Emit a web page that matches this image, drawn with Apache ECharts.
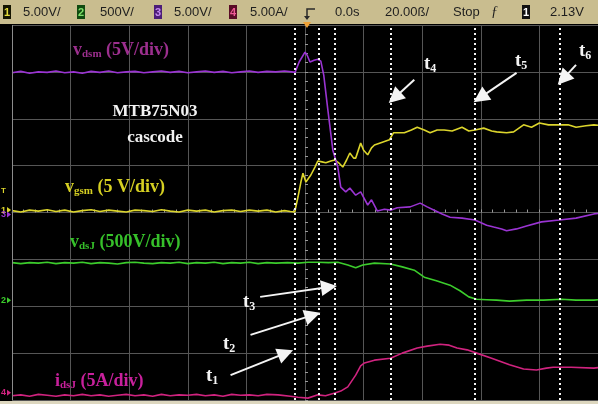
<!DOCTYPE html>
<html>
<head>
<meta charset="utf-8">
<script src="https://cdn.jsdelivr.net/npm/echarts@6/dist/echarts.min.js"></script>
<style>
  html, body { margin: 0; padding: 0; background: #000; }
  #scope { width: 598px; height: 404px; }
</style>
</head>
<body>
<div id="scope"></div>
<script>
// Time in ns, 20 ns/div, trigger at 0 ns
const timeMin = -100;
const timeMax = 100;
const timeStep = 20;

// Channel settings: volts (or amps) per division and ground level in divisions
const ch1Scale = 5,   ch1Ground = 0.03;   // v_gsm
const ch2Scale = 500, ch2Ground = -1.87;  // v_dsJ
const ch3Scale = 5,   ch3Ground = 0.0;    // v_dsm
const ch4Scale = 5,   ch4Ground = -3.89;  // i_dsJ

// v_gsm [ns, V]
const vgsm = [
  [-100, 0.05], [-97, -0.1], [-94, 0.1], [-91, 0.0], [-88, 0.15], [-85, -0.05], [-82, 0.1],
  [-79, -0.1], [-76, 0.05], [-73, 0.15], [-70, -0.05], [-67, 0.1], [-64, 0.0], [-61, -0.1],
  [-58, 0.1], [-55, 0.05], [-52, -0.05], [-49, 0.15], [-46, 0.0], [-43, -0.1], [-40, 0.1],
  [-37, 0.0], [-34, 0.1], [-31, -0.1], [-28, 0.05], [-25, 0.1], [-22, -0.05], [-19, 0.1],
  [-16, 0.0], [-13, 0.1], [-10, -0.1], [-7, 0.05], [-5, -0.05], [-3.5, -0.1],
  [-2.4, 1.5], [-1.4, 3.1], [-0.7, 4.05], [0.3, 3.1], [2.0, 3.85], [3.4, 4.7], [4.4, 5.35],
  [5.8, 5.25], [7.1, 5.15], [8.8, 5.35], [10.2, 5.45], [11.5, 5.15], [12.9, 4.7], [14.2, 5.45],
  [15.3, 6.2], [16.6, 5.65], [17.3, 5.65], [19.0, 7.25], [20.0, 6.5], [21.4, 6.0], [22.7, 6.75],
  [23.7, 7.05], [26.4, 7.35], [28.8, 7.6], [30.2, 8.35], [33.9, 8.35], [36.3, 8.65], [38.3, 8.95],
  [40.7, 8.65], [42.7, 8.35], [45.1, 8.65], [47.5, 8.65], [50.2, 8.55], [53.6, 8.95], [55.9, 8.55],
  [58.0, 8.65], [61.0, 8.85], [63.7, 8.55], [65.4, 8.45], [68.8, 8.35], [71.2, 8.45], [74.6, 9.2],
  [77.3, 8.95], [80.0, 9.4], [83.1, 9.2], [86.8, 9.2], [89.8, 9.2], [92.5, 8.95], [95.9, 9.1],
  [98.6, 9.2], [100, 9.15]
];

// v_dsm [ns, V]
const vdsm = [
  [-100, 14.9], [-97, 15.05], [-94, 14.85], [-91, 15.0], [-88, 14.95], [-85, 15.1], [-82, 14.9],
  [-79, 15.0], [-76, 14.85], [-73, 15.05], [-70, 14.95], [-67, 15.1], [-64, 14.9], [-61, 15.0],
  [-58, 15.05], [-55, 14.9], [-52, 15.0], [-49, 15.1], [-46, 14.95], [-43, 15.05], [-40, 14.9],
  [-37, 15.0], [-34, 15.1], [-31, 14.95], [-28, 15.05], [-25, 14.9], [-22, 15.0], [-19, 15.1],
  [-16, 14.95], [-13, 15.05], [-10, 15.0], [-7, 15.1], [-4.5, 15.0], [-3.4, 14.95],
  [-2.0, 16.05], [0.0, 17.1], [0.7, 16.8], [1.7, 16.05], [3.1, 16.25], [4.4, 16.35], [5.4, 16.15],
  [6.4, 14.65], [7.8, 10.95], [9.5, 6.65], [11.2, 4.85], [12.2, 2.7], [13.9, 2.2], [15.3, 2.6],
  [17.3, 1.85], [19.0, 2.2], [21.4, 0.8], [22.7, 1.35], [24.7, 0.15], [27.1, 0.35], [29.2, 0.25],
  [31.5, 0.5], [35.9, 0.6], [39.3, 1.0], [41.7, 0.6], [44.1, 0.25], [46.8, -0.15], [49.5, -0.5],
  [53.6, -0.6], [58.0, -0.8], [62.0, -1.35], [64.4, -1.55], [67.1, -1.75], [68.8, -1.95],
  [72.2, -1.75], [75.6, -1.45], [80.7, -1.0], [86.8, -0.8], [92.5, -0.6], [98.6, -0.15], [100, -0.1]
];

// v_dsJ [ns, V]
const vdsJ = [
  [-100, 400], [-97, 390], [-94, 400], [-91, 395], [-88, 405], [-85, 390], [-82, 400],
  [-79, 395], [-76, 405], [-73, 390], [-70, 400], [-67, 395], [-64, 385], [-61, 400],
  [-58, 405], [-55, 395], [-52, 390], [-49, 400], [-46, 395], [-43, 405], [-40, 390],
  [-37, 400], [-34, 395], [-31, 405], [-28, 390], [-25, 400], [-22, 395], [-19, 405],
  [-16, 390], [-13, 400], [-10, 395], [-6, 400], [-2.4, 395], [1, 405], [4.4, 405],
  [8, 400], [11.2, 405], [14.6, 375], [17.3, 345], [19.7, 375], [23.7, 395], [29.2, 385],
  [33.2, 355], [37.3, 320], [40.7, 245], [45.1, 205], [49.5, 160], [52.9, 100], [55.9, 35],
  [58.6, 10], [62, 5], [65.4, 0], [69.8, -10], [75.6, 0], [81.4, 0], [87.5, 10], [92.5, 0],
  [98.6, 0], [100, 5]
];

// i_dsJ [ns, A]
const idsJ = [
  [-100, -0.1], [-97, 0.0], [-94, -0.15], [-91, 0.05], [-88, -0.05], [-85, -0.15], [-82, 0.0],
  [-79, -0.1], [-76, 0.05], [-73, -0.1], [-70, 0.0], [-67, -0.15], [-64, -0.05], [-61, 0.05],
  [-58, -0.1], [-55, 0.0], [-52, -0.15], [-49, 0.05], [-46, -0.1], [-43, 0.0], [-40, -0.05],
  [-37, 0.05], [-34, -0.1], [-31, 0.0], [-28, -0.15], [-25, 0.05], [-22, -0.05], [-19, 0.0],
  [-16, -0.1], [-13, 0.05], [-9.2, 0.0], [-5, -0.15], [-2.4, -0.25], [1.0, -0.35], [4.4, 0.0],
  [7, -0.1], [10.2, 0.2], [12.2, 0.4], [14.6, 0.85], [17.3, 2.1], [19.0, 3.1], [20.3, 3.4],
  [23.7, 3.7], [29.2, 3.9], [33.2, 4.45], [38.3, 5.0], [41.7, 5.2], [46.1, 5.4], [49.2, 5.3],
  [51.9, 5.0], [55.3, 4.8], [58.6, 4.45], [63.7, 3.9], [69.8, 3.2], [74.6, 2.75], [79.0, 2.65],
  [82.4, 2.85], [84.7, 2.95], [90.8, 2.95], [98.6, 2.85], [100, 2.9]
];

// Switching instants t1..t6 [ns]
const tMarks = [-3.4, 4.7, 10.2, 29.2, 58.0, 86.8];
const tNames = ['1', '2', '3', '4', '5', '6'];

// Annotation arrows [ns, div] -> [ns, div]
const arrowFrom = [[-25.4, -3.47], [-18.6, -2.61], [-15.3, -1.80], [37.3, 2.83], [72.2, 2.98], [92.5, 3.15]];
const arrowTo   = [[-6.6, -3.0], [2.6, -2.19], [8.2, -1.59], [30.6, 2.45], [59.8, 2.45], [88.1, 2.85]];

// Header readouts
const chanScales = ['5.00V/', '500V/', '5.00V/', '5.00A/'];
const timeReadout = ['0.0s', '20.00\u00df/', 'Stop', '2.13V'];

// ---- layout ----
const W = 598, H = 404;
const G = { left: 12, top: 25, width: 590, height: 375 };
const divH = G.height / 8;
const yOfDiv = d => G.top + (4 - d) * divH;

const colors = {
  ch1: '#dcd52c', ch2: '#3ccc2c', ch3: '#9a34d2', ch4: '#d0237f',
  bar: '#c9bd8f', grid: '#565656'
};

const toDiv = (arr, scale, ground) => arr.map(p => [p[0], p[1] / scale + ground]);

const trace = (name, data, color) => ({
  name, type: 'line', data, showSymbol: false, symbol: 'none',
  lineStyle: { color, width: 1.6 }, z: 3, animation: false
});

const serif = "'Liberation Serif', 'DejaVu Serif', serif";

function subLabel(main, sub, tail, color, x, y, size) {
  return {
    type: 'text', x, y, z: 50,
    style: {
      text: '{m|' + main + '}{s|' + sub + '}' + (tail ? '{m|' + tail + '}' : ''),
      align: 'left', verticalAlign: 'middle',
      rich: {
        m: { fontSize: size, fontWeight: 'bold', fontFamily: serif, fill: color, lineHeight: size + 2 },
        s: { fontSize: Math.round(size * 0.62), fontWeight: 'bold', fontFamily: serif, fill: color, verticalAlign: 'bottom', lineHeight: Math.round(size * 0.62) }
      }
    }
  };
}

const headerFont = "13px 'Liberation Sans', Arial, sans-serif";
function headText(text, x) {
  return { type: 'text', x, y: 12, z: 60, style: { text, font: headerFont, fill: '#1e1e1e', align: 'left', verticalAlign: 'middle' } };
}
function chanBox(num, x, bg, fg) {
  return [
    { type: 'rect', z: 60, shape: { x, y: 5, width: 8, height: 14 }, style: { fill: bg } },
    { type: 'text', x: x + 4, y: 12.5, z: 61, style: { text: num, font: "bold 11px 'Liberation Sans', sans-serif", fill: fg, align: 'center', verticalAlign: 'middle' } }
  ];
}
function gndMarker(num, y, color) {
  return [
    { type: 'text', x: 1, y, z: 40, style: { text: num, font: "bold 9px 'Liberation Sans', sans-serif", fill: color, align: 'left', verticalAlign: 'middle' } },
    { type: 'polygon', z: 40, shape: { points: [[7, y - 3], [11, y], [7, y + 3]] }, style: { fill: color } }
  ];
}

const graphics = [
  // header and footer strips
  { type: 'rect', z: 55, shape: { x: 0, y: 0, width: W, height: 24 }, style: { fill: colors.bar } },
  { type: 'rect', z: 55, shape: { x: 0, y: 401, width: W, height: 3 }, style: { fill: '#ddd7bf' } },
  // left frame
  { type: 'line', z: 5, shape: { x1: G.left + 0.5, y1: G.top, x2: G.left + 0.5, y2: G.top + G.height }, style: { stroke: '#8c8c8c', lineWidth: 1 } },
  // channel scale readouts
  ...chanBox('1', 3, '#151500', '#e4dc3a'), headText(chanScales[0], 23),
  ...chanBox('2', 77, '#104a10', '#7ee06a'), headText(chanScales[1], 100),
  ...chanBox('3', 154, '#4c1d78', '#c48af0'), headText(chanScales[2], 174),
  ...chanBox('4', 229, '#5a0c26', '#f05a96'), headText(chanScales[3], 250),
  // trigger position icon
  { type: 'polyline', z: 60, shape: { points: [[315, 9], [307, 9], [307, 19]] }, style: { stroke: '#2a2a2a', lineWidth: 1.5, fill: null } },
  { type: 'polygon', z: 60, shape: { points: [[304, 16], [307, 20], [310, 16]] }, style: { fill: '#2a2a2a' } },
  { type: 'polygon', z: 62, shape: { points: [[303, 22], [311, 22], [307, 28]] }, style: { fill: '#f0a236' } },
  headText(timeReadout[0], 335), headText(timeReadout[1], 385), headText(timeReadout[2], 453),
  { type: 'text', x: 491, y: 12, z: 60, style: { text: '\u0192', font: "italic 14px 'Liberation Serif', serif", fill: '#1e1e1e', align: 'left', verticalAlign: 'middle' } },
  ...chanBox('1', 522, '#111', '#fff'), headText(timeReadout[3], 550),
  // ground / trigger level markers on the left edge
  { type: 'text', x: 1, y: yOfDiv(ch1Ground + 2.13 / ch1Scale), z: 40, style: { text: 'T', font: "bold 8px 'Liberation Sans', sans-serif", fill: colors.ch1, align: 'left', verticalAlign: 'middle' } },
  ...gndMarker('1', yOfDiv(ch1Ground) - 1, colors.ch1),
  ...gndMarker('3', yOfDiv(ch3Ground) + 2, colors.ch3),
  ...gndMarker('2', yOfDiv(ch2Ground), colors.ch2),
  ...gndMarker('4', yOfDiv(ch4Ground) - 2, colors.ch4),
  // trace captions
  subLabel('v', 'dsm', ' (5V/div)', '#9c2f8e', 73, 50, 18),
  subLabel('v', 'gsm', ' (5 V/div)', '#d6d022', 65, 187, 18),
  subLabel('v', 'dsJ', ' (500V/div)', '#36c02a', 70, 242, 18),
  subLabel('i', 'dsJ', ' (5A/div)', '#c8209c', 55, 381, 18),
  { type: 'text', x: 155, y: 112, z: 50, style: { text: 'MTB75N03', font: "bold 17px " + serif, fill: '#f2f2f2', align: 'center', verticalAlign: 'middle' } },
  { type: 'text', x: 155, y: 138, z: 50, style: { text: 'cascode', font: "bold 17px " + serif, fill: '#f2f2f2', align: 'center', verticalAlign: 'middle' } }
];

// t-labels next to the arrow tails
const tLabelPos = [[206, 376], [223, 344], [243, 302], [424, 64], [515, 61], [579, 51]];
tLabelPos.forEach((p, i) => graphics.push(subLabel('t', tNames[i], '', '#f4f4f4', p[0], p[1], 19)));

const chart = echarts.init(document.getElementById('scope'), null, { renderer: 'canvas' });

chart.setOption({
  backgroundColor: '#000',
  animation: false,
  grid: { left: G.left, top: G.top, width: G.width, height: G.height, containLabel: false },
  xAxis: {
    type: 'value', min: timeMin, max: timeMax, interval: timeStep,
    axisLabel: { show: false },
    axisLine: { show: true, onZero: true, lineStyle: { color: colors.grid } },
    axisTick: { show: true, inside: true, length: 3, lineStyle: { color: '#9a9a9a' } },
    minorTick: { show: true, splitNumber: 5, length: 3, lineStyle: { color: '#9a9a9a' } },
    splitLine: { show: true, lineStyle: { color: colors.grid, width: 1 } }
  },
  yAxis: {
    type: 'value', min: -4, max: 4, interval: 1,
    axisLabel: { show: false },
    axisLine: { show: true, onZero: true, lineStyle: { color: colors.grid } },
    axisTick: { show: true, inside: true, length: 3, lineStyle: { color: '#9a9a9a' } },
    minorTick: { show: true, splitNumber: 5, length: 3, lineStyle: { color: '#9a9a9a' } },
    splitLine: { show: true, lineStyle: { color: colors.grid, width: 1 } }
  },
  series: [
    trace('i_dsJ', toDiv(idsJ, ch4Scale, ch4Ground), colors.ch4),
    trace('v_dsJ', toDiv(vdsJ, ch2Scale, ch2Ground), colors.ch2),
    trace('v_gsm', toDiv(vgsm, ch1Scale, ch1Ground), colors.ch1),
    trace('v_dsm', toDiv(vdsm, ch3Scale, ch3Ground), colors.ch3),
    {
      name: 'instants', type: 'line', data: [], z: 4,
      markLine: {
        silent: true, symbol: 'none', animation: false,
        label: { show: false },
        lineStyle: { color: '#f4f4f4', type: [2, 3], width: 2 },
        data: tMarks.map(t => ({ xAxis: t }))
      }
    },
    {
      name: 'arrows', type: 'line', data: [], z: 6,
      markLine: {
        silent: true, animation: false,
        symbol: ['none', 'triangle'], symbolSize: 16,
        label: { show: false },
        lineStyle: { color: '#f4f4f4', type: 'solid', width: 2 },
        itemStyle: { color: '#f4f4f4' },
        data: arrowFrom.map((a, i) => [
          { coord: a, symbol: 'none' },
          { coord: arrowTo[i], symbol: 'triangle', symbolSize: 16, itemStyle: { color: '#f4f4f4' } }
        ])
      }
    }
  ],
  graphic: graphics
});
</script>
</body>
</html>
